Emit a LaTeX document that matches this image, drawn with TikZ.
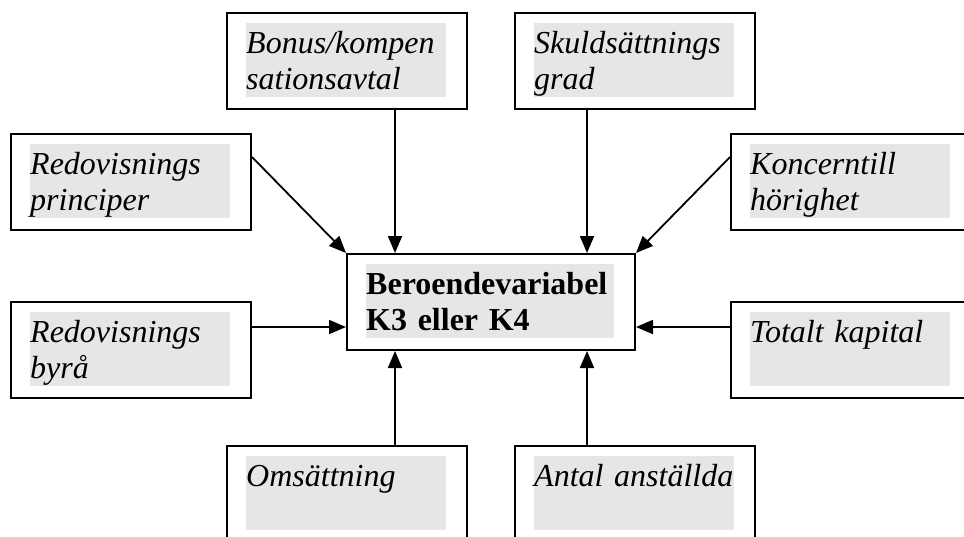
\documentclass[tikz,border=0pt]{standalone}
\usepackage{fontspec}
\setmainfont{Liberation Serif}
\usetikzlibrary{arrows.meta}
\definecolor{gra}{HTML}{E6E6E6}
\begin{document}
\begin{tikzpicture}[x=1pt,y=-1pt,
    ruta/.style={draw,line width=2pt,minimum width=240pt,minimum height=96pt,inner sep=0pt},
    falt/.style={fill=gra,inner sep=0pt,text width=200pt,text height=30pt,text depth=44pt,
        align=left,anchor=north west,font=\fontsize{32}{36}\selectfont\itshape},
    pil/.style={line width=1.8pt,-{Triangle[length=17pt,width=14pt]}}]
    \clip (0,0) rectangle (964,536);
    \fill[white] (0,0) rectangle (964,536);
    % mitten
    \node[ruta,minimum width=288pt] (beroende) at (491,302) {};
    \node[falt,text width=248pt,font=\fontsize{32}{36}\selectfont\bfseries]
        at ([shift={(20,11)}]beroende.north west) {Beroendevariabel\\K3 eller K4};
    % rutor runt om
    \node[ruta] (bonus) at (347,61) {};
    \node[falt] at ([shift={(20,11)}]bonus.north west) {Bonus/kompen\\sationsavtal};
    \node[ruta] (skuld) at (635,61) {};
    \node[falt] at ([shift={(20,11)}]skuld.north west) {Skuldsättnings\\grad};
    \node[ruta] (princip) at (131,182) {};
    \node[falt] at ([shift={(20,11)}]princip.north west) {Redovisnings\\principer};
    \node[ruta] (koncern) at (851,182) {};
    \node[falt] at ([shift={(20,11)}]koncern.north west) {Koncerntill\\hörighet};
    \node[ruta] (byra) at (131,350) {};
    \node[falt] at ([shift={(20,11)}]byra.north west) {Redovisnings\\byrå};
    \node[ruta] (kapital) at (851,350) {};
    \node[falt] at ([shift={(20,11)}]kapital.north west) {Totalt kapital};
    \node[ruta] (oms) at (347,494) {};
    \node[falt] at ([shift={(20,11)}]oms.north west) {Omsättning};
    \node[ruta] (antal) at (635,494) {};
    \node[falt] at ([shift={(20,11)}]antal.north west) {Antal anställda};
    % pilar
    \draw[pil] ([xshift=48pt]bonus.south) -- ([xshift=48pt]bonus.south |- beroende.north);
    \draw[pil] ([xshift=-48pt]skuld.south) -- ([xshift=-48pt]skuld.south |- beroende.north);
    \draw[pil] ([yshift=25pt]princip.east) -- (beroende.north west);
    \draw[pil] ([yshift=25pt]koncern.west) -- (beroende.north east);
    \draw[pil] ([yshift=23pt]byra.east) -- ([yshift=23pt]byra.east -| beroende.west);
    \draw[pil] ([yshift=23pt]kapital.west) -- ([yshift=23pt]kapital.west -| beroende.east);
    \draw[pil] ([xshift=48pt]oms.north) -- ([xshift=48pt]oms.north |- beroende.south);
    \draw[pil] ([xshift=-48pt]antal.north) -- ([xshift=-48pt]antal.north |- beroende.south);
\end{tikzpicture}
\end{document}
